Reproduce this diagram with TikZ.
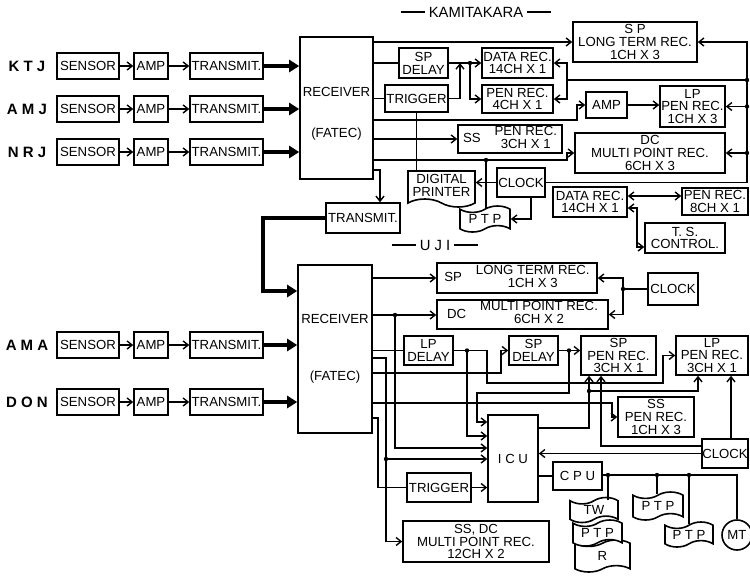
\documentclass[tikz,border=0pt]{standalone}
\usepackage{fontspec}
\setmainfont{Liberation Sans}
\usetikzlibrary{arrows.meta,shapes.symbols}
\newcommand\lettering{\fontsize{6.6}{6.4}\selectfont}
\newcommand\station{\fontsize{7.5}{7.5}\selectfont\bfseries}
\newcommand\heading{\fontsize{7.4}{7.4}\selectfont}
\newcommand\titlerule{\rule[2.2pt]{12pt}{0.6pt}}
\newcommand\sidebox[2]{#1\hspace{7pt}\begin{tabular}{@{}c@{}}#2\end{tabular}}

\begin{document}
\begin{tikzpicture}[x=0.5pt,y=-0.5pt,
  box/.style={draw,line width=0.8pt,inner sep=0pt,align=center,font=\lettering},
  sz/.style 2 args={minimum width=#1*0.5pt,minimum height=#2*0.5pt},
  tp/.style={box,shape=tape,tape bend height=3.2pt,fill=white},
  wire/.style={line width=0.7pt},
  big/.style={line width=2.2pt,-{Triangle[length=5pt,width=6pt]}},
  >={Straight Barb[length=2.5pt,width=4pt]}]
\useasboundingbox (0,0) rectangle (750,575);

% receivers
\node[box,sz={73}{142}] (recK) at (336.5,108) {\rule{0pt}{10pt}RECEIVER\\[14pt](FATEC)};
\node[box,sz={74}{168}] (recU) at (335,349) {RECEIVER\\[22pt](FATEC)};
\node[font=\heading] (kamiT) at (476,12) {\titlerule\ KAMITAKARA \titlerule};
\node[font=\heading] (ujiT) at (435,245) {\titlerule\ U J I \titlerule};

% stations
\node[font=\station] (ktj) at (27,66) {K T J};
\node[box,sz={62}{26}] (ktjsen) at (88,66) {SENSOR};
\node[box,sz={34}{26}] (ktjamp) at (151,66) {AMP};
\node[box,sz={73}{26}] (ktjtrx) at (226.5,66) {TRANSMIT.};
\draw[wire,->] (ktjsen) -- (ktjamp);
\draw[wire,->] (ktjamp) -- (ktjtrx);
\draw[big] (ktjtrx) -- (ktjtrx -| recK.west);

\node[font=\station] (amj) at (27,109) {A M J};
\node[box,sz={62}{26}] (amjsen) at (88,109) {SENSOR};
\node[box,sz={34}{26}] (amjamp) at (151,109) {AMP};
\node[box,sz={73}{26}] (amjtrx) at (226.5,109) {TRANSMIT.};
\draw[wire,->] (amjsen) -- (amjamp);
\draw[wire,->] (amjamp) -- (amjtrx);
\draw[big] (amjtrx) -- (amjtrx -| recK.west);

\node[font=\station] (nrj) at (27,152) {N R J};
\node[box,sz={62}{26}] (nrjsen) at (88,152) {SENSOR};
\node[box,sz={34}{26}] (nrjamp) at (151,152) {AMP};
\node[box,sz={73}{26}] (nrjtrx) at (226.5,152) {TRANSMIT.};
\draw[wire,->] (nrjsen) -- (nrjamp);
\draw[wire,->] (nrjamp) -- (nrjtrx);
\draw[big] (nrjtrx) -- (nrjtrx -| recK.west);

\node[font=\station] (ama) at (27,345) {A M A};
\node[box,sz={62}{26}] (amasen) at (88,345) {SENSOR};
\node[box,sz={34}{26}] (amaamp) at (151,345) {AMP};
\node[box,sz={73}{26}] (amatrx) at (226.5,345) {TRANSMIT.};
\draw[wire,->] (amasen) -- (amaamp);
\draw[wire,->] (amaamp) -- (amatrx);
\draw[big] (amatrx) -- (amatrx -| recU.west);

\node[font=\station] (don) at (27,402) {D O N};
\node[box,sz={62}{26}] (donsen) at (88,402) {SENSOR};
\node[box,sz={34}{26}] (donamp) at (151,402) {AMP};
\node[box,sz={73}{26}] (dontrx) at (226.5,402) {TRANSMIT.};
\draw[wire,->] (donsen) -- (donamp);
\draw[wire,->] (donamp) -- (dontrx);
\draw[big] (dontrx) -- (dontrx -| recU.west);

% kamitakara
\node[box,sz={124}{40}] (ltK) at (635,42) {S P\\LONG TERM REC.\\1CH X 3};
\node[box,sz={49}{30}] (spdK) at (423.5,63) {SP\\DELAY};
\node[box,sz={63}{27}] (trgK) at (416.5,98.5) {TRIGGER};
\node[box,sz={71}{30}] (datK) at (517.5,63) {DATA REC.\\14CH X 1};
\node[box,sz={71}{28}] (penK) at (517.5,99) {PEN REC.\\4CH X 1};
\node[box,sz={41}{26}] (ampK) at (606.5,105) {AMP};
\node[box,sz={65}{41}] (lppK) at (692.5,106.5) {LP\\PEN REC.\\1CH X 3};
\node[box,sz={104}{28}] (ssK) at (510,139) {\sidebox{SS}{PEN REC.\\3CH X 1}};
\node[box,sz={150}{40}] (dcK) at (650,153) {DC\\MULTI POINT REC.\\6CH X 3};
\node[box,shape=tape,tape bend top=none,tape bend bottom=out and in,tape bend height=4pt,sz={67}{36}] (dprK) at (441.5,185) {DIGITAL\\PRINTER};
\node[box,sz={48}{29}] (clkK) at (521,182.5) {CLOCK};
\node[tp,sz={50}{26}] (ptpK) at (485,219) {P T P};
\node[box,sz={74}{30}] (trxK) at (363,218) {TRANSMIT.};
\node[box,sz={74}{30}] (datK2) at (590,202) {DATA REC.\\14CH X 1};
\node[box,sz={66}{27}] (penK2) at (715,201.5) {PEN REC.\\8CH X 1};
\node[box,sz={80}{30}] (tsK) at (685,238) {T. S.\\CONTROL.};

\coordinate (jK0) at (460,63);
\coordinate (jK1) at (470,63);
\coordinate (jK2) at (486,160);
\coordinate (busK) at (747,42);
\coordinate (bsK) at (567,80);
\coordinate (kA) at (577,120);
\coordinate (kB) at (567,160);
\coordinate (kC) at (380,170);
\coordinate (kD) at (640,196);
\coordinate (kE) at (637,208);
\coordinate (kF) at (637,247);
\coordinate (lnk) at (263,291);

\draw[wire,->] (recK.east |- ltK.west) -- (ltK.west);
\draw[wire] (recK.east |- spdK.west) -- (spdK.west);
\draw[wire] (recK.east |- trgK.west) -- (trgK.west);
\draw[wire,->] (spdK.east) -- (datK.west);
\draw[wire,->] (jK1) |- (penK.west);
\draw[wire,->] (trgK.east) -| (jK0);
\draw[wire,->] (clkK.east) -| (busK) -- (ltK.east);
\draw[wire,->] (lppK.east -| busK) -- (lppK.east);
\draw[wire,->] (dcK.east -| busK) -- (dcK.east);
\draw[wire] (bsK -| busK) -- (bsK);
\draw[wire,->] (bsK) |- (datK.east);
\draw[wire,->] (bsK) |- (penK.east);
\draw[wire,->] (recK.east |- kA) -- (kA) |- (ampK.west);
\draw[wire,->] (ampK.east) -- (ampK.east -| lppK.west);
\draw[wire] (trgK.south) -- (trgK.south |- dprK.north);
\draw[wire,->] (recK.east |- ssK.west) -- (ssK.west);
\draw[wire,->] (recK.east |- kB) -- (kB) |- (dcK.west);
\draw[wire] (jK2) -- (jK2 |- ptpK.north);
\draw[wire,->] (clkK.west) -- (clkK.west -| dprK.east);
\draw[wire,->] ([xshift=5pt]clkK.south) |- (ptpK.east);
\draw[wire,->] (recK.east |- kC) -- (kC) -- (kC |- trxK.north);
\draw[big] (trxK.west) -| (lnk) -- (lnk -| recU.west);
\draw[wire,<->] (datK2.east |- kD) -- (kD -| penK2.west);
\draw[wire,<->] (datK2.east |- kE) -- (kE) -- (kF) -- (kF -| tsK.west);
\fill (jK1) circle (1.1pt);
\fill (jK2) circle (1.1pt);
\fill (bsK -| busK) circle (1.1pt);
\fill (lppK.east -| busK) circle (1.1pt);
\fill (dcK.east -| busK) circle (1.1pt);

% uji
\node[box,sz={160}{30}] (ltU) at (517,278) {\sidebox{SP}{LONG TERM REC.\\1CH X 3}};
\node[box,sz={171}{29}] (dcU) at (522.5,314.5) {\sidebox{DC}{MULTI POINT REC.\\6CH X 2}};
\node[box,sz={50}{32}] (clkU1) at (673,289) {CLOCK};
\node[box,sz={49}{29}] (lpdU) at (428.5,350.5) {LP\\DELAY};
\node[box,sz={49}{29}] (spdU) at (533.5,350.5) {SP\\DELAY};
\node[box,sz={75}{39}] (sppU) at (618.5,355.5) {SP\\PEN REC.\\3CH X 1};
\node[box,sz={72}{39}] (lppU) at (712,355.5) {LP\\PEN REC.\\3CH X 1};
\node[box,sz={76}{40}] (sspU) at (656,417) {SS\\PEN REC.\\1CH X 3};
\node[box,sz={46}{29}] (clkU2) at (725,453.5) {CLOCK};
\node[box,sz={50}{87}] (icu) at (513,458.5) {I C U};
\node[box,sz={49}{28}] (cpu) at (577.5,476) {C P U};
\node[box,sz={64}{29}] (trgU) at (439,487.5) {TRIGGER};
\node[box,sz={146}{41}] (mpU) at (476,541.5) {SS, DC\\MULTI POINT REC.\\12CH X 2};
\node[tp,sz={55}{32}] (rr) at (602.5,556) {R};
\node[tp,sz={49}{26}] (ptpS) at (597.5,533) {P T P};
\node[tp,sz={48}{25}] (tw) at (594,510) {TW};
\node[tp,sz={50}{28}] (ptpA) at (658,506) {P T P};
\node[tp,sz={48}{25}] (ptpB) at (689,534.5) {P T P};
\node[box,circle,sz={30}{30}] (mt) at (737,535) {MT};

\coordinate (iA) at (icu.west |- 0,422);
\coordinate (iB) at (icu.west |- 0,436);
\coordinate (iC) at (icu.west |- 0,448);
\coordinate (iD) at (icu.west |- 0,459);
\coordinate (jc) at (623,289);
\coordinate (jU1) at (395,315);
\coordinate (jU2) at (467,350.5);
\coordinate (jU3) at (569,350.5);
\coordinate (jU4) at (386,459);
\coordinate (jU5) at (589,391);
\coordinate (jU6) at (608,475);
\coordinate (jU7) at (657,475);
\coordinate (jU8) at (689,475);
\coordinate (u1) at (487,383);
\coordinate (u2) at (663,383);
\coordinate (u3) at (501,373);
\coordinate (u4) at (477,393);
\coordinate (u5) at (386,358);
\coordinate (u6) at (378,418);
\coordinate (u7) at (612,403);
\coordinate (u8) at (589,428);
\coordinate (u9) at (698,391);
\coordinate (u10) at (601,446);
\coordinate (cb) at (737,475);

\draw[wire,->] (recU.east |- ltU.west) -- (ltU.west);
\draw[wire,->] (recU.east |- jU1) -- (jU1 -| dcU.west);
\draw[wire,->] (jU1) |- (iC);
\draw[wire] (clkU1.west) -- (jc);
\draw[wire,->] (jc) |- (ltU.east);
\draw[wire,->] (jc) |- (dcU.east);
\draw[wire] (recU.east |- lpdU.west) -- (lpdU.west);
\draw[wire,->] (lpdU.east) -| (u1) -- (u2) |- (lppU.west);
\draw[wire,->] (jU2) |- (iB);
\draw[wire,->] (recU.east |- u3) -- (u3) |- (spdU.west);
\draw[wire,->] (spdU.east) -- (spdU.east -| sppU.west);
\draw[wire,->] (jU3) |- (u4) |- (iA);
\draw[wire,->] (recU.east |- u5) -- (u5) |- (mpU.west);
\draw[wire,->] (jU4) -- (iD);
\draw[wire] (recU.east |- u6) -- (u6) |- (trgU.west);
\draw[wire,->] (trgU.east) -- (trgU.east -| icu.west);
\draw[wire,->] (recU.east |- u7) -- (u7) |- (sspU.west);
\draw[wire,->] (icu.east |- u8) -- (u8) -- (u8 |- sppU.south);
\draw[wire,->] (jU5) -- (u9) -- (u9 |- lppU.south);
\draw[wire,->] (clkU2.west) -- (clkU2.west -| icu.east);
\draw[wire,->] (clkU2.west |- u10) -- (u10) -- (u10 |- sppU.south);
\draw[wire,->] ([xshift=3pt]clkU2.north) -- ([xshift=3pt]clkU2.north |- lppU.south);
\draw[wire] (icu.east |- cpu.west) -- (cpu.west);
\draw[wire] (cpu.east |- cb) -- (cb) -- (mt.north);
\draw[wire] (jU6) -- (jU6 |- tw.north);
\draw[wire] (jU7) -- (jU7 |- ptpA.north);
\draw[wire] (jU8) -- (jU8 |- ptpB.north);
\fill (jc) circle (1.1pt);
\fill (jU1) circle (1.1pt);
\fill (jU2) circle (1.1pt);
\fill (jU3) circle (1.1pt);
\fill (jU4) circle (1.1pt);
\fill (jU5) circle (1.1pt);
\fill (jU6) circle (1.1pt);
\fill (jU7) circle (1.1pt);
\fill (jU8) circle (1.1pt);
\end{tikzpicture}
\end{document}
